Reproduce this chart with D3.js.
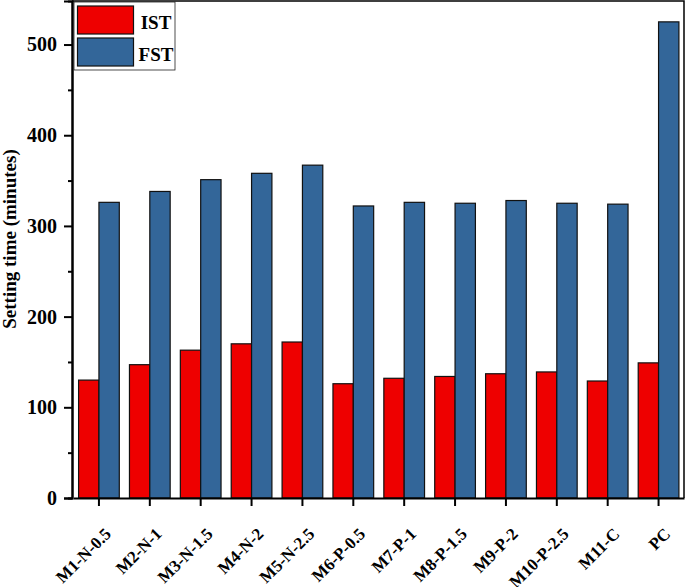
<!DOCTYPE html>
<html>
<head>
<meta charset="utf-8">
<script src="https://cdn.jsdelivr.net/npm/d3@7"></script>
<style>
  body { margin: 0; background: #fff; }
  text { font-family: "Liberation Serif", "Times New Roman", serif; font-weight: bold; }
</style>
</head>
<body>
<svg id="chart" width="685" height="587"></svg>
<script>
var categories = ['M1-N-0.5', 'M2-N-1', 'M3-N-1.5', 'M4-N-2', 'M5-N-2.5', 'M6-P-0.5',
    'M7-P-1', 'M8-P-1.5', 'M9-P-2', 'M10-P-2.5', 'M11-C', 'PC'];
var istValues = [130, 147, 163, 170, 172, 126, 132, 134, 137, 139, 129, 149];
var fstValues = [326, 338, 351, 358, 367, 322, 326, 325, 328, 325, 324, 525];
var seriesNames = ['IST', 'FST'];
var seriesColors = ['#ee0000', '#336699'];
var yTicks = [0, 100, 200, 300, 400, 500];

var svg = d3.select('#chart');
var margin = { left: 72, right: 1, top: 1, bottom: 89 };
var width = 685 - margin.left - margin.right;
var height = 587 - margin.top - margin.bottom;

var g = svg.append('g')
    .attr('transform', 'translate(' + margin.left + ',' + margin.top + ')');

var x = d3.scaleBand()
    .domain(categories)
    .range([1.5, width])
    .paddingInner(0.2)
    .paddingOuter(0.1);

var xSub = d3.scaleBand()
    .domain(seriesNames)
    .range([0, x.bandwidth()]);

var y = d3.scaleLinear()
    .domain([0, 548])
    .range([height, 0]);

var rows = categories.map(function(c, i) {
    return { cat: c, values: [istValues[i], fstValues[i]] };
});

// bars
var groups = g.selectAll('.grp')
    .data(rows)
    .enter().append('g')
    .attr('class', 'grp')
    .attr('transform', function(d) { return 'translate(' + x(d.cat) + ',0)'; });

groups.selectAll('rect')
    .data(function(d) {
        return d.values.map(function(v, k) { return { name: seriesNames[k], value: v, k: k }; });
    })
    .enter().append('rect')
    .attr('x', function(d) { return xSub(d.name); })
    .attr('y', function(d) { return y(d.value); })
    .attr('width', xSub.bandwidth())
    .attr('height', function(d) { return height - y(d.value); })
    .style('fill', function(d) { return seriesColors[d.k]; })
    .style('stroke', '#111')
    .style('stroke-width', 1.2);

// frame (top and right)
g.append('path')
    .attr('d', 'M0,0H' + width + 'V' + height)
    .style('fill', 'none')
    .style('stroke', '#000')
    .style('stroke-width', 1.5);

// y axis with minor ticks
var yMinor = d3.axisLeft(y)
    .tickValues(d3.range(50, 550, 100))
    .tickSize(4)
    .tickFormat('');
g.append('g').attr('class', 'axis').call(yMinor);

var yAxis = d3.axisLeft(y)
    .tickValues(yTicks)
    .tickSize(8)
    .tickPadding(7);
var ya = g.append('g').attr('class', 'axis').call(yAxis);
ya.selectAll('text').style('font-size', '20px');

// x axis, labels rotated -45
var xAxis = d3.axisBottom(x)
    .tickSize(8)
    .tickSizeOuter(0)
    .tickFormat('');
g.append('g')
    .attr('class', 'axis')
    .attr('transform', 'translate(0,' + height + ')')
    .call(xAxis);

g.append('g')
    .selectAll('text')
    .data(categories)
    .enter().append('text')
    .attr('transform', function(d) {
        return 'translate(' + (x(d) + x.bandwidth() / 2 + 13) + ',' + (height + 37) + ') rotate(-45)';
    })
    .style('text-anchor', 'end')
    .style('font-size', '17px')
    .style('fill', '#000')
    .text(function(d) { return d; });

svg.selectAll('.axis path, .axis line')
    .style('stroke', '#000')
    .style('stroke-width', 2);
svg.selectAll('.axis text').style('fill', '#000');

// y label
svg.append('text')
    .attr('transform', 'translate(16,239) rotate(-90)')
    .style('text-anchor', 'middle')
    .style('font-size', '19px')
    .text('Setting time (minutes)');

// legend
var legend = g.append('g').attr('transform', 'translate(2,1)');
legend.append('rect')
    .attr('width', 101)
    .attr('height', 68)
    .style('fill', '#fff')
    .style('stroke', '#222')
    .style('stroke-width', 0.8);
seriesNames.forEach(function(name, k) {
    legend.append('rect')
        .attr('x', 3.5)
        .attr('y', 4 + k * 32)
        .attr('width', 56)
        .attr('height', 28)
        .style('fill', seriesColors[k])
        .style('stroke', '#111')
        .style('stroke-width', 1.2);
    legend.append('text')
        .attr('x', 82)
        .attr('y', 27 + k * 32)
        .style('text-anchor', 'middle')
        .style('font-size', '19px')
        .text(name);
});
</script>
</body>
</html>
